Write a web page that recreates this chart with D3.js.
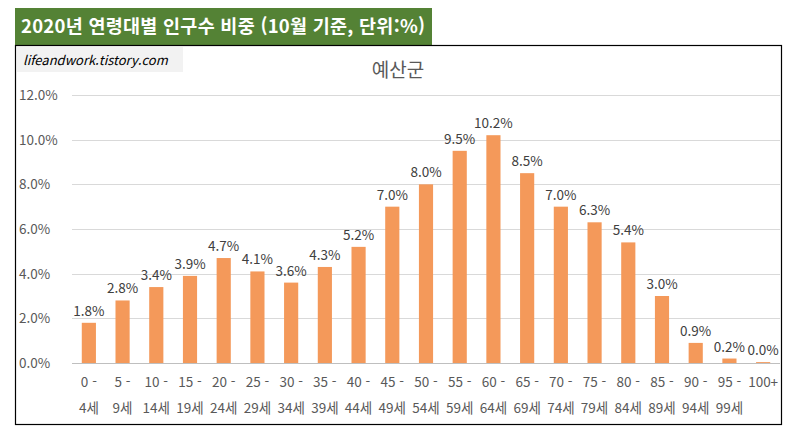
<!DOCTYPE html>
<html lang="ko">
<head>
<meta charset="utf-8">
<title>예산군</title>
<script src="https://cdn.jsdelivr.net/npm/d3@7"></script>
<style>
body { margin: 0; background: #fff; font-family: "Noto Sans CJK KR", "Noto Sans", sans-serif; }
</style>
</head>
<body>
<svg id="chart" width="794" height="435"></svg>
<script>
var ageFrom = ["0 -", "5 -", "10 -", "15 -", "20 -", "25 -", "30 -", "35 -", "40 -", "45 -", "50 -",
	"55 -", "60 -", "65 -", "70 -", "75 -", "80 -", "85 -", "90 -", "95 -", "100+"];
var ageTo = ["4세", "9세", "14세", "19세", "24세", "29세", "34세", "39세", "44세", "49세", "54세",
	"59세", "64세", "69세", "74세", "79세", "84세", "89세", "94세", "99세", ""];
var shares = [1.8, 2.8, 3.4, 3.9, 4.7, 4.1, 3.6, 4.3, 5.2, 7.0, 8.0, 9.5, 10.2, 8.5, 7.0, 6.3, 5.4, 3.0, 0.9, 0.2, 0.04];
var yTicks = [0, 2, 4, 6, 8, 10, 12];

var svg = d3.select("#chart");
var grey = "#595959";

// title band
svg.append("rect").attr("x", 15).attr("y", 8).attr("width", 417).attr("height", 37).attr("fill", "#548235");
svg.append("text").attr("x", 21).attr("y", 33).attr("fill", "#fff")
	.attr("font-size", 18.5).attr("font-weight", "bold").attr("textLength", 404)
	.text("2020년 연령대별 인구수 비중 (10월 기준, 단위:%)");

// chart frame
svg.append("rect").attr("x", 15.5).attr("y", 45.5).attr("width", 766).attr("height", 379)
	.attr("fill", "none").attr("stroke", "#000").attr("stroke-width", 1.2);
svg.append("rect").attr("x", 17).attr("y", 47).attr("width", 166).attr("height", 25).attr("fill", "#f2f2f2");
svg.append("text").attr("x", 23).attr("y", 65).attr("font-size", 13).attr("font-style", "italic")
	.attr("fill", "#000").text("lifeandwork.tistory.com");
svg.append("text").attr("x", 398).attr("y", 77).attr("text-anchor", "middle")
	.attr("font-size", 19).attr("fill", grey).text("예산군");

var x = d3.scaleBand().domain(d3.range(shares.length)).range([72, 780]).paddingInner(0.58).paddingOuter(0.29);
var y = d3.scaleLinear().domain([0, 12]).range([363, 95]);

// gridlines
svg.append("g").selectAll("line").data(yTicks).join("line")
	.attr("x1", 72).attr("x2", 780)
	.attr("y1", function(d) { return Math.round(y(d)) + 0.5; })
	.attr("y2", function(d) { return Math.round(y(d)) + 0.5; })
	.attr("stroke", function(d) { return d === 0 ? "#bfbfbf" : "#d9d9d9"; });

svg.append("g").selectAll("text").data(yTicks).join("text")
	.attr("x", 19).attr("y", function(d) { return y(d) + 5; })
	.attr("font-size", 13.5).attr("fill", grey)
	.text(function(d) { return d.toFixed(1) + "%"; });

// bars
svg.append("g").selectAll("rect").data(shares).join("rect")
	.attr("x", function(d, i) { return x(i); })
	.attr("width", x.bandwidth())
	.attr("y", function(d) { return y(d); })
	.attr("height", function(d) { return y(0) - y(d); })
	.attr("fill", "#f4995a");

svg.append("g").selectAll("text").data(shares).join("text")
	.attr("x", function(d, i) { return x(i) + x.bandwidth() / 2; })
	.attr("y", function(d) { return y(d) - 7; })
	.attr("text-anchor", "middle").attr("font-size", 13.5).attr("fill", "#404040")
	.text(function(d) { return d.toFixed(1) + "%"; });

// category labels
var cats = svg.append("g").selectAll("g").data(ageFrom).join("g");
cats.append("text")
	.attr("x", function(d, i) { return x(i) + x.bandwidth() / 2; })
	.attr("y", 387).attr("text-anchor", "middle").attr("font-size", 13.5).attr("fill", grey)
	.text(function(d) { return d; });
cats.append("text")
	.attr("x", function(d, i) { return x(i) + x.bandwidth() / 2; })
	.attr("y", 413).attr("text-anchor", "middle").attr("font-size", 13.5).attr("fill", grey)
	.text(function(d, i) { return ageTo[i]; });
</script>
</body>
</html>
